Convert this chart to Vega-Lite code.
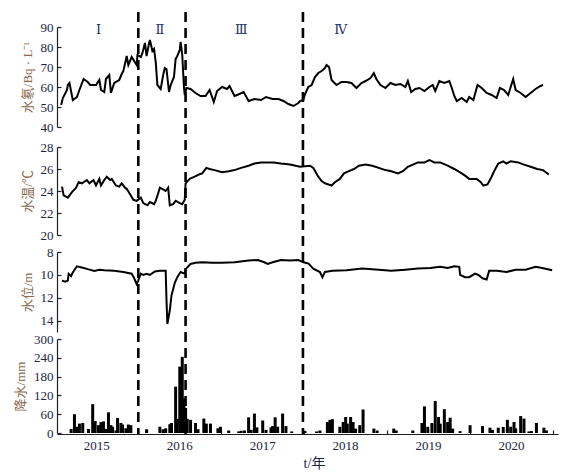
{
  "$schema": "https://vega.github.io/schema/vega-lite/v6.json",
  "width": 501,
  "height": 422,
  "autosize": {"type": "none"},
  "padding": {"left": 57, "top": 12, "right": 14, "bottom": 38},
  "background": "white",
  "config": {
    "view": {"stroke": null},
    "font": "Liberation Serif, Noto Sans CJK SC",
    "axis": {
      "grid": false,
      "domainColor": "#222222",
      "domainWidth": 1.2,
      "tickColor": "#222222",
      "tickWidth": 1.2,
      "labelFont": "Liberation Serif",
      "labelFontSize": 13,
      "labelColor": "#1b2440",
      "titleFont": "Liberation Serif, Noto Sans CJK SC",
      "titleFontSize": 13,
      "titleFontWeight": "normal",
      "titleColor": "#8a6a4e"
    }
  },
  "datasets": {
    "radon": [
      {"t":2015.07,"v":51},{"t":2015.09,"v":54.5},{"t":2015.14,"v":58.5},{"t":2015.15,"v":61},{"t":2015.17,"v":62},
      {"t":2015.21,"v":53.5},{"t":2015.26,"v":55},{"t":2015.29,"v":58.5},{"t":2015.34,"v":64},{"t":2015.39,"v":62.5},
      {"t":2015.42,"v":61},{"t":2015.49,"v":61},{"t":2015.53,"v":63.5},{"t":2015.55,"v":58.5},{"t":2015.59,"v":57.5},
      {"t":2015.61,"v":64},{"t":2015.65,"v":66},{"t":2015.67,"v":57},{"t":2015.71,"v":62},{"t":2015.77,"v":63.5},
      {"t":2015.80,"v":66.5},{"t":2015.82,"v":68},{"t":2015.85,"v":73.5},{"t":2015.86,"v":75.5},{"t":2015.88,"v":71},
      {"t":2015.91,"v":74},{"t":2015.92,"v":75},{"t":2015.95,"v":73},{"t":2015.98,"v":71},{"t":2015.99,"v":76},
      {"t":2016.03,"v":75},{"t":2016.05,"v":77},{"t":2016.08,"v":82},{"t":2016.10,"v":75.5},{"t":2016.13,"v":82},
      {"t":2016.14,"v":83.5},{"t":2016.17,"v":78},{"t":2016.19,"v":79},{"t":2016.21,"v":72.5},{"t":2016.23,"v":61},
      {"t":2016.26,"v":59.5},{"t":2016.27,"v":59},{"t":2016.30,"v":66},{"t":2016.32,"v":69.5},{"t":2016.34,"v":69},
      {"t":2016.37,"v":57.5},{"t":2016.39,"v":61},{"t":2016.43,"v":65},{"t":2016.45,"v":74},{"t":2016.47,"v":75.5},
      {"t":2016.50,"v":78.5},{"t":2016.51,"v":82.5},{"t":2016.53,"v":76},{"t":2016.55,"v":60},{"t":2016.56,"v":56},
      {"t":2016.58,"v":59.5},{"t":2016.63,"v":59},{"t":2016.69,"v":57},{"t":2016.75,"v":55.5},{"t":2016.81,"v":55.5},
      {"t":2016.86,"v":58.5},{"t":2016.91,"v":52.5},{"t":2016.95,"v":58},{"t":2017.01,"v":60},{"t":2017.07,"v":59},
      {"t":2017.10,"v":60.5},{"t":2017.16,"v":55.5},{"t":2017.22,"v":56.5},{"t":2017.27,"v":57.5},{"t":2017.33,"v":53},
      {"t":2017.40,"v":54},{"t":2017.48,"v":53.5},{"t":2017.54,"v":55},{"t":2017.62,"v":54},{"t":2017.69,"v":54},
      {"t":2017.75,"v":53},{"t":2017.81,"v":51.5},{"t":2017.87,"v":50.5},{"t":2017.93,"v":52},{"t":2017.95,"v":53},
      {"t":2017.99,"v":53.5},{"t":2018.01,"v":56.5},{"t":2018.05,"v":60},{"t":2018.09,"v":61},{"t":2018.13,"v":65},
      {"t":2018.17,"v":67},{"t":2018.21,"v":68},{"t":2018.25,"v":69.5},{"t":2018.27,"v":71},{"t":2018.30,"v":70},
      {"t":2018.33,"v":63.5},{"t":2018.39,"v":61},{"t":2018.45,"v":62.5},{"t":2018.51,"v":62.5},{"t":2018.57,"v":62},
      {"t":2018.63,"v":59.5},{"t":2018.69,"v":62},{"t":2018.74,"v":63},{"t":2018.80,"v":64.5},{"t":2018.84,"v":67},
      {"t":2018.87,"v":64},{"t":2018.92,"v":61},{"t":2018.98,"v":59.5},{"t":2019.04,"v":62},{"t":2019.10,"v":61},
      {"t":2019.16,"v":61.5},{"t":2019.22,"v":60},{"t":2019.25,"v":63},{"t":2019.29,"v":57.5},{"t":2019.34,"v":59},
      {"t":2019.39,"v":59.5},{"t":2019.45,"v":58},{"t":2019.51,"v":60},{"t":2019.55,"v":61},{"t":2019.58,"v":58},
      {"t":2019.63,"v":63},{"t":2019.69,"v":62},{"t":2019.75,"v":63},{"t":2019.78,"v":59.5},{"t":2019.81,"v":55.5},
      {"t":2019.84,"v":53},{"t":2019.90,"v":54.5},{"t":2019.96,"v":52.5},{"t":2019.99,"v":55},{"t":2020.04,"v":53.5},
      {"t":2020.09,"v":61},{"t":2020.14,"v":59.5},{"t":2020.20,"v":57},{"t":2020.26,"v":56},{"t":2020.32,"v":54.5},
      {"t":2020.36,"v":59.5},{"t":2020.41,"v":58.5},{"t":2020.46,"v":56},{"t":2020.52,"v":64},{"t":2020.55,"v":58.5},
      {"t":2020.61,"v":57},{"t":2020.67,"v":55},{"t":2020.73,"v":57},{"t":2020.79,"v":59},{"t":2020.85,"v":60.5},
      {"t":2020.88,"v":61}
    ],
    "temp": [
      {"t":2015.08,"v":24.4},{"t":2015.10,"v":23.6},{"t":2015.15,"v":23.4},{"t":2015.20,"v":23.9},{"t":2015.25,"v":24.3},
      {"t":2015.28,"v":24.8},{"t":2015.32,"v":24.7},{"t":2015.38,"v":25.0},{"t":2015.41,"v":24.7},{"t":2015.46,"v":25.0},
      {"t":2015.49,"v":24.5},{"t":2015.53,"v":25.1},{"t":2015.55,"v":24.5},{"t":2015.59,"v":25.0},{"t":2015.62,"v":25.3},
      {"t":2015.66,"v":25.0},{"t":2015.68,"v":25.1},{"t":2015.73,"v":24.5},{"t":2015.77,"v":24.4},{"t":2015.80,"v":24.7},
      {"t":2015.84,"v":24.3},{"t":2015.86,"v":24.2},{"t":2015.91,"v":23.6},{"t":2015.94,"v":23.2},{"t":2015.98,"v":23.1},
      {"t":2016.03,"v":23.4},{"t":2016.06,"v":22.9},{"t":2016.11,"v":22.7},{"t":2016.14,"v":23.0},{"t":2016.19,"v":22.8},
      {"t":2016.21,"v":23.1},{"t":2016.24,"v":23.8},{"t":2016.26,"v":24.3},{"t":2016.31,"v":24.1},{"t":2016.33,"v":24.0},
      {"t":2016.36,"v":24.3},{"t":2016.38,"v":22.7},{"t":2016.42,"v":22.8},{"t":2016.45,"v":23.1},{"t":2016.50,"v":22.9},
      {"t":2016.53,"v":22.8},{"t":2016.56,"v":23.2},{"t":2016.57,"v":24.7},{"t":2016.62,"v":25.1},{"t":2016.68,"v":25.3},
      {"t":2016.73,"v":25.5},{"t":2016.77,"v":25.6},{"t":2016.82,"v":26.1},{"t":2016.86,"v":26.0},{"t":2016.92,"v":25.9},
      {"t":2017.01,"v":25.7},{"t":2017.09,"v":25.8},{"t":2017.16,"v":25.9},{"t":2017.24,"v":26.1},{"t":2017.33,"v":26.3},
      {"t":2017.40,"v":26.5},{"t":2017.48,"v":26.6},{"t":2017.56,"v":26.6},{"t":2017.63,"v":26.6},{"t":2017.72,"v":26.5},
      {"t":2017.83,"v":26.4},{"t":2017.95,"v":26.2},{"t":2018.07,"v":26.3},{"t":2018.11,"v":26.1},{"t":2018.17,"v":25.3},
      {"t":2018.21,"v":24.9},{"t":2018.25,"v":24.7},{"t":2018.33,"v":24.5},{"t":2018.37,"v":24.8},{"t":2018.43,"v":25.1},
      {"t":2018.48,"v":25.6},{"t":2018.54,"v":25.8},{"t":2018.60,"v":26.0},{"t":2018.66,"v":26.3},{"t":2018.74,"v":26.4},
      {"t":2018.82,"v":26.3},{"t":2018.90,"v":26.1},{"t":2018.98,"v":25.9},{"t":2019.05,"v":25.8},{"t":2019.13,"v":25.6},
      {"t":2019.19,"v":25.8},{"t":2019.25,"v":26.2},{"t":2019.31,"v":26.4},{"t":2019.37,"v":26.6},{"t":2019.45,"v":26.6},
      {"t":2019.51,"v":26.8},{"t":2019.57,"v":26.6},{"t":2019.64,"v":26.6},{"t":2019.73,"v":26.3},{"t":2019.81,"v":26.0},
      {"t":2019.88,"v":25.7},{"t":2019.94,"v":25.4},{"t":2019.99,"v":25.1},{"t":2020.08,"v":25.1},{"t":2020.13,"v":24.8},
      {"t":2020.16,"v":24.5},{"t":2020.21,"v":24.6},{"t":2020.26,"v":25.3},{"t":2020.29,"v":25.8},{"t":2020.34,"v":26.5},
      {"t":2020.40,"v":26.7},{"t":2020.44,"v":26.5},{"t":2020.49,"v":26.7},{"t":2020.58,"v":26.6},{"t":2020.65,"v":26.4},
      {"t":2020.73,"v":26.2},{"t":2020.81,"v":26.0},{"t":2020.88,"v":25.9},{"t":2020.95,"v":25.5}
    ],
    "level": [
      {"t":2015.08,"v":10.5},{"t":2015.12,"v":10.6},{"t":2015.15,"v":10.5},{"t":2015.16,"v":9.9},{"t":2015.19,"v":10.1},
      {"t":2015.21,"v":9.8},{"t":2015.26,"v":9.25},{"t":2015.32,"v":9.35},{"t":2015.39,"v":9.5},{"t":2015.47,"v":9.65},
      {"t":2015.53,"v":9.55},{"t":2015.59,"v":9.6},{"t":2015.71,"v":9.65},{"t":2015.82,"v":9.75},{"t":2015.92,"v":9.9},
      {"t":2015.95,"v":10.3},{"t":2015.98,"v":10.8},{"t":2016.00,"v":10.5},{"t":2016.03,"v":9.9},{"t":2016.06,"v":10.0},
      {"t":2016.10,"v":9.9},{"t":2016.14,"v":10.0},{"t":2016.20,"v":9.7},{"t":2016.26,"v":9.65},{"t":2016.33,"v":9.65},
      {"t":2016.34,"v":12.2},{"t":2016.35,"v":14.3},{"t":2016.38,"v":13.1},{"t":2016.40,"v":11.8},{"t":2016.44,"v":10.7},
      {"t":2016.47,"v":10.2},{"t":2016.51,"v":9.75},{"t":2016.56,"v":9.9},{"t":2016.57,"v":9.5},{"t":2016.63,"v":9.05},
      {"t":2016.69,"v":8.95},{"t":2016.77,"v":8.9},{"t":2016.89,"v":8.95},{"t":2017.01,"v":8.95},{"t":2017.16,"v":8.9},
      {"t":2017.33,"v":8.75},{"t":2017.44,"v":8.7},{"t":2017.52,"v":8.9},{"t":2017.56,"v":9.05},{"t":2017.62,"v":8.9},
      {"t":2017.72,"v":8.7},{"t":2017.83,"v":8.75},{"t":2017.93,"v":8.7},{"t":2017.99,"v":8.9},{"t":2018.05,"v":9.0},
      {"t":2018.11,"v":9.45},{"t":2018.19,"v":9.75},{"t":2018.22,"v":10.2},{"t":2018.25,"v":9.75},{"t":2018.34,"v":9.65},
      {"t":2018.51,"v":9.6},{"t":2018.70,"v":9.45},{"t":2018.90,"v":9.55},{"t":2019.05,"v":9.65},{"t":2019.22,"v":9.55},
      {"t":2019.37,"v":9.45},{"t":2019.52,"v":9.4},{"t":2019.64,"v":9.3},{"t":2019.73,"v":9.4},{"t":2019.81,"v":9.25},
      {"t":2019.87,"v":9.3},{"t":2019.88,"v":10.0},{"t":2019.94,"v":10.2},{"t":2019.99,"v":10.2},{"t":2020.06,"v":9.9},
      {"t":2020.10,"v":10.0},{"t":2020.15,"v":10.3},{"t":2020.20,"v":10.4},{"t":2020.23,"v":9.65},{"t":2020.32,"v":9.65},
      {"t":2020.44,"v":9.75},{"t":2020.55,"v":9.55},{"t":2020.67,"v":9.55},{"t":2020.79,"v":9.3},{"t":2020.87,"v":9.4},
      {"t":2020.99,"v":9.6}
    ],
    "rain": [
      {"t":2015.19,"v":13},{"t":2015.23,"v":60},{"t":2015.26,"v":20},{"t":2015.29,"v":30},{"t":2015.33,"v":32},
      {"t":2015.40,"v":13},{"t":2015.45,"v":92},{"t":2015.48,"v":38},{"t":2015.52,"v":25},{"t":2015.55,"v":35},
      {"t":2015.58,"v":37},{"t":2015.61,"v":13},{"t":2015.64,"v":66},{"t":2015.67,"v":25},{"t":2015.69,"v":20},
      {"t":2015.73,"v":8},{"t":2015.75,"v":48},{"t":2015.79,"v":32},{"t":2015.81,"v":27},{"t":2015.85,"v":15},
      {"t":2015.88,"v":27},{"t":2015.91,"v":25},{"t":2016.10,"v":12},{"t":2016.26,"v":20},{"t":2016.30,"v":12},
      {"t":2016.33,"v":15},{"t":2016.38,"v":28},{"t":2016.40,"v":32},{"t":2016.45,"v":148},{"t":2016.47,"v":45},
      {"t":2016.50,"v":212},{"t":2016.53,"v":243},{"t":2016.55,"v":110},{"t":2016.57,"v":80},{"t":2016.59,"v":45},
      {"t":2016.63,"v":42},{"t":2016.69,"v":32},{"t":2016.72,"v":12},{"t":2016.79,"v":46},{"t":2016.82,"v":30},
      {"t":2016.87,"v":30},{"t":2016.96,"v":15},{"t":2016.99,"v":20},{"t":2017.09,"v":8},{"t":2017.21,"v":5},
      {"t":2017.24,"v":7},{"t":2017.28,"v":8},{"t":2017.33,"v":50},{"t":2017.36,"v":10},{"t":2017.40,"v":62},
      {"t":2017.43,"v":18},{"t":2017.50,"v":40},{"t":2017.54,"v":10},{"t":2017.60,"v":18},{"t":2017.62,"v":22},
      {"t":2017.65,"v":50},{"t":2017.68,"v":20},{"t":2017.74,"v":62},{"t":2017.78,"v":22},{"t":2017.85,"v":5},
      {"t":2018.01,"v":6},{"t":2018.15,"v":5},{"t":2018.19,"v":8},{"t":2018.28,"v":35},{"t":2018.31,"v":42},
      {"t":2018.34,"v":44},{"t":2018.43,"v":20},{"t":2018.47,"v":35},{"t":2018.50,"v":51},{"t":2018.52,"v":30},
      {"t":2018.56,"v":51},{"t":2018.59,"v":35},{"t":2018.62,"v":14},{"t":2018.67,"v":25},{"t":2018.71,"v":75},
      {"t":2018.84,"v":14},{"t":2018.88,"v":8},{"t":2019.08,"v":14},{"t":2019.11,"v":8},{"t":2019.31,"v":8},
      {"t":2019.42,"v":32},{"t":2019.45,"v":85},{"t":2019.49,"v":20},{"t":2019.54,"v":32},{"t":2019.58,"v":102},
      {"t":2019.62,"v":51},{"t":2019.64,"v":30},{"t":2019.69,"v":76},{"t":2019.73,"v":35},{"t":2019.76,"v":49},
      {"t":2019.79,"v":14},{"t":2019.88,"v":6},{"t":2020.00,"v":25},{"t":2020.15,"v":22},{"t":2020.24,"v":17},
      {"t":2020.27,"v":10},{"t":2020.34,"v":17},{"t":2020.40,"v":19},{"t":2020.45,"v":42},{"t":2020.49,"v":20},
      {"t":2020.53,"v":35},{"t":2020.55,"v":15},{"t":2020.61,"v":54},{"t":2020.65,"v":46},{"t":2020.71,"v":5},
      {"t":2020.74,"v":6},{"t":2020.80,"v":32},{"t":2020.89,"v":17},{"t":2020.92,"v":8}
    ],
    "events": [{"t":2016.0},{"t":2016.57},{"t":2017.985}],
    "stages": [
      {"t":2015.52,"v":88.5,"label":"Ⅰ"},
      {"t":2016.26,"v":88.5,"label":"Ⅱ"},
      {"t":2017.24,"v":88.5,"label":"Ⅲ"},
      {"t":2018.44,"v":88.5,"label":"Ⅳ"}
    ]
  },
  "resolve": {"scale": {"y": "independent"}, "axis": {"y": "independent"}},
  "layer": [
    {
      "layer": [
        {
          "data": {"name": "radon"},
          "mark": {"type": "line", "color": "black", "strokeWidth": 2},
          "encoding": {
            "x": {
              "field": "t", "type": "quantitative",
              "scale": {"domain": [2015.08, 2021.0], "nice": false, "zero": false},
              "axis": {
                "values": [2016, 2017, 2018, 2019, 2020, 2021],
                "labelExpr": "'' + (datum.value - 1)",
                "labelOffset": -42,
                "tickSize": -4,
                "labelPadding": 9,
                "title": "t/年",
                "titleColor": "#1b2440",
                "titleFontSize": 14,
                "titlePadding": 4,
                "titleX": 257
              }
            },
            "y": {
              "field": "v", "type": "quantitative",
              "scale": {"domain": [40, 90], "range": [115, 15], "nice": false, "zero": false},
              "axis": {
                "orient": "left",
                "values": [40, 50, 60, 70, 80, 90],
                "tickSize": -4,
                "labelPadding": 8,
                "titlePadding": 6,
                "title": "水氡/Bq · L⁻¹"
              }
            }
          }
        },
        {
          "data": {"name": "stages"},
          "mark": {"type": "text", "font": "DejaVu Serif, Noto Sans CJK SC", "fontSize": 13, "color": "#1f3466", "baseline": "middle", "align": "center"},
          "encoding": {
            "x": {"field": "t", "type": "quantitative"},
            "y": {"field": "v", "type": "quantitative"},
            "text": {"field": "label"}
          }
        }
      ]
    },
    {
      "data": {"name": "temp"},
      "mark": {"type": "line", "color": "black", "strokeWidth": 2},
      "encoding": {
        "x": {"field": "t", "type": "quantitative"},
        "y": {
          "field": "v", "type": "quantitative",
          "scale": {"domain": [20, 28], "range": [223, 135], "nice": false, "zero": false},
          "axis": {
            "orient": "left",
            "values": [20, 22, 24, 26, 28],
            "tickSize": -4,
            "labelPadding": 8,
            "titlePadding": 6,
            "title": "水温/℃"
          }
        }
      }
    },
    {
      "data": {"name": "level"},
      "mark": {"type": "line", "color": "black", "strokeWidth": 2},
      "encoding": {
        "x": {"field": "t", "type": "quantitative"},
        "y": {
          "field": "v", "type": "quantitative",
          "scale": {"domain": [8, 15], "range": [240, 320], "nice": false, "zero": false},
          "axis": {
            "orient": "left",
            "values": [8, 10, 12, 14],
            "tickSize": -4,
            "labelPadding": 8,
            "titlePadding": 6,
            "title": "水位/m"
          }
        }
      }
    },
    {
      "data": {"name": "rain"},
      "mark": {"type": "bar", "color": "black", "size": 3},
      "encoding": {
        "x": {"field": "t", "type": "quantitative"},
        "y": {
          "field": "v", "type": "quantitative",
          "scale": {"domain": [0, 300], "range": [421, 327], "nice": false, "zero": true},
          "axis": {
            "orient": "left",
            "values": [0, 60, 120, 180, 240, 300],
            "tickSize": -4,
            "labelPadding": 8,
            "titlePadding": 6,
            "title": "降水/mm"
          }
        }
      }
    },
    {
      "data": {"name": "events"},
      "mark": {"type": "rule", "color": "black", "strokeWidth": 2.6, "strokeDash": [10, 6]},
      "encoding": {
        "x": {"field": "t", "type": "quantitative"}
      }
    }
  ]
}
